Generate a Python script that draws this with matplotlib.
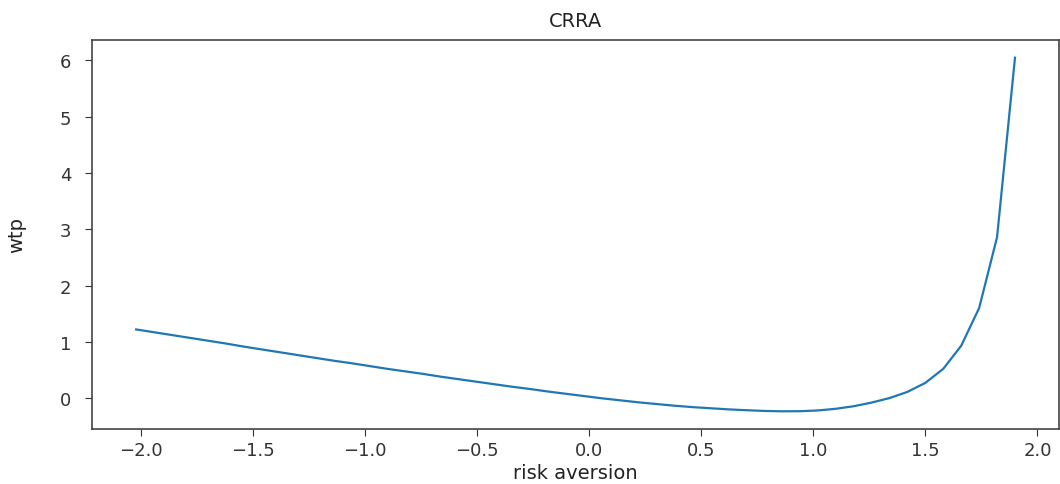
import numpy as np
import matplotlib
matplotlib.use("Agg")
import matplotlib.pyplot as plt

# risk aversion grid (step 0.08) and willingness to pay
risk_aversion = np.round(np.arange(50) * 0.08 - 2.02, 2)
wtp = [
    1.22, 1.17, 1.12, 1.07, 1.02, 0.97, 0.915, 0.865, 0.815, 0.765,
    0.715, 0.665, 0.62, 0.57, 0.52, 0.475, 0.43, 0.38, 0.335, 0.29,
    0.245, 0.20, 0.16, 0.115, 0.075, 0.035, -0.005, -0.04, -0.075, -0.105,
    -0.135, -0.16, -0.18, -0.20, -0.215, -0.228, -0.235, -0.233, -0.22, -0.19,
    -0.145, -0.08, 0.00, 0.11, 0.27, 0.52, 0.93, 1.60, 2.86, 6.05,
]

title = "CRRA"
xlabel = "risk aversion"
ylabel = "wtp"

plt.rcParams['font.family'] = 'DejaVu Sans'
fig = plt.figure(figsize=(10.6, 4.85), dpi=100)
ax = fig.add_axes([0.087, 0.1134, 0.912, 0.8021])

ax.plot(risk_aversion, wtp, color='#1f77b4', linewidth=1.6)

ax.set_title(title, fontsize=14, color='#222222', pad=10)
ax.set_xlabel(xlabel, fontsize=14, color='#222222', labelpad=3)
ax.set_ylabel(ylabel, fontsize=14, color='#222222', labelpad=24)
ax.tick_params(labelsize=13, colors='#333333', length=5)
ax.tick_params(axis='y', pad=10)
ax.set_xticks(np.arange(-2.0, 2.01, 0.5))
ax.set_yticks(range(0, 7))

for s in ax.spines.values():
    s.set_color('#444444')
    s.set_linewidth(1.2)

fig.savefig("out.png", dpi=100)
